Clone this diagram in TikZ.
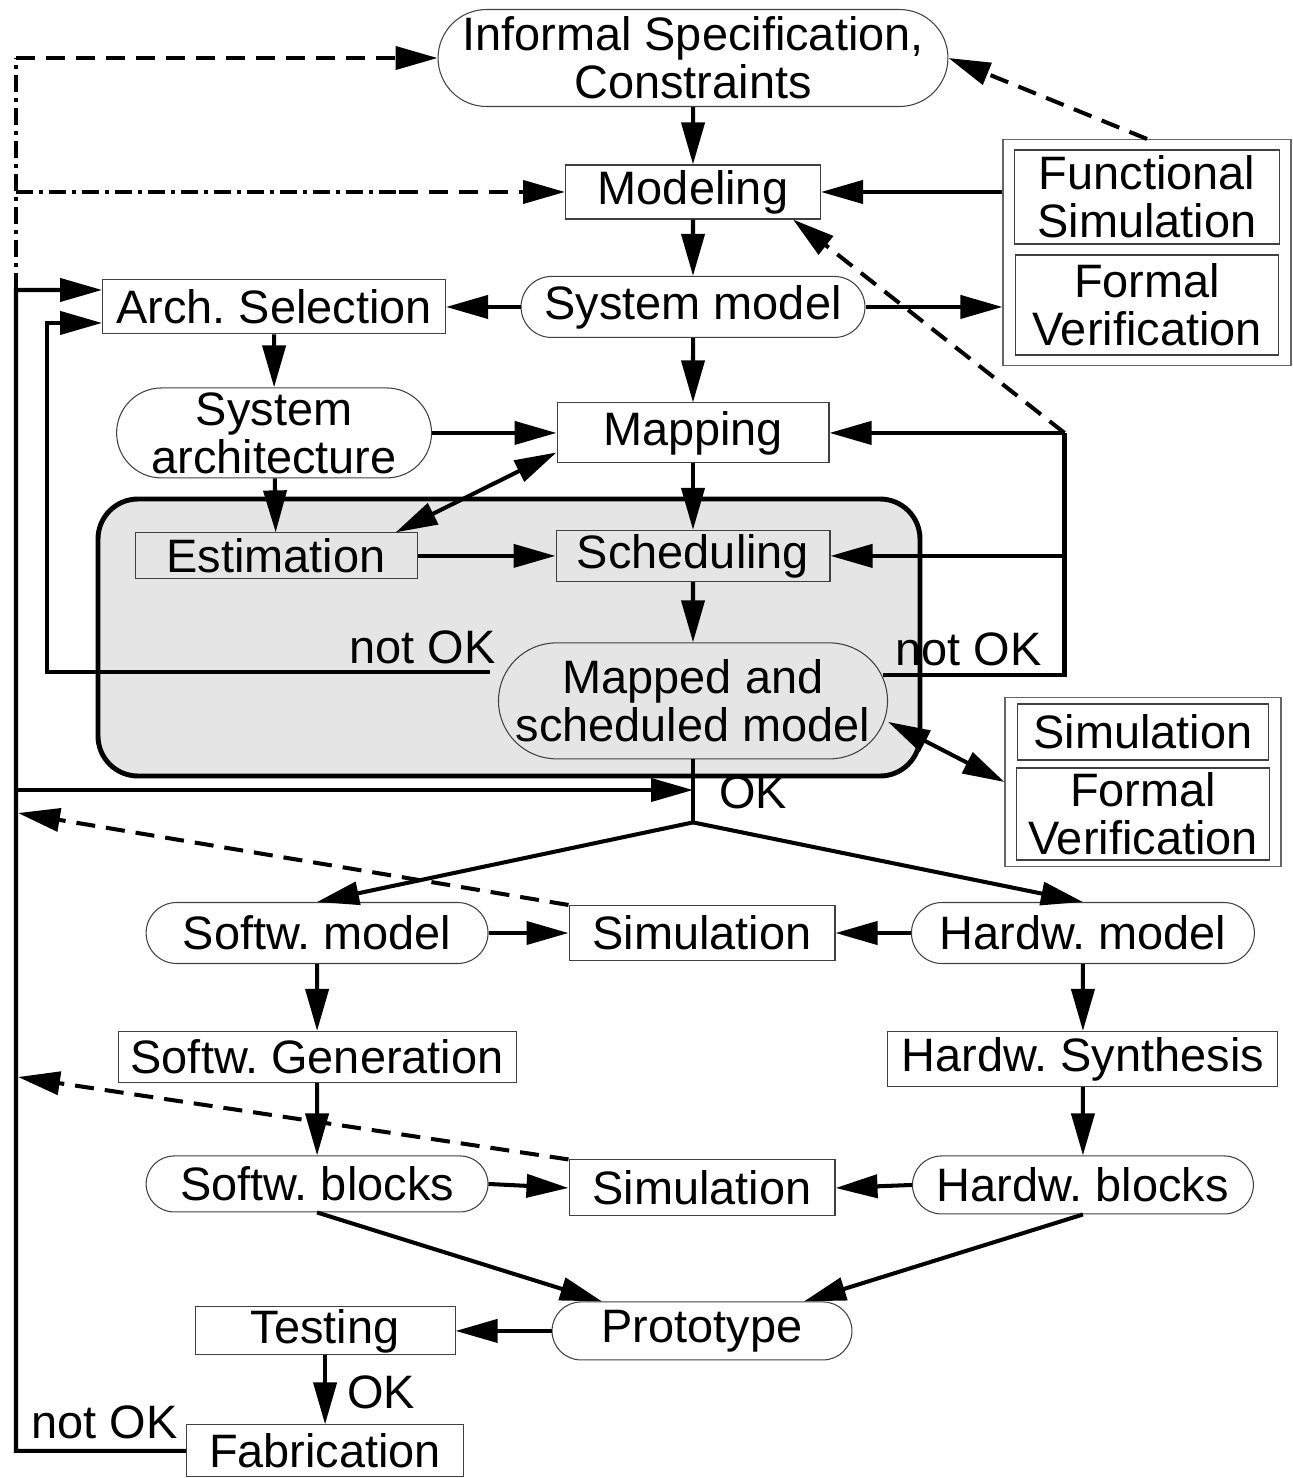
\documentclass[tikz,border=0pt]{standalone}
\usepackage{fontspec}
\setmainfont{Liberation Sans}
\usetikzlibrary{arrows.meta,shapes.misc,fit,calc,backgrounds}
\newcommand{\bigtxt}{\fontsize{26.7pt}{27.3pt}\selectfont\frenchspacing}
\tikzset{
    block/.style = {draw=black!75, line width=0.6pt, rectangle, inner sep=0pt, align=center},
    pill/.style = {draw=black!75, line width=0.6pt, rounded rectangle, inner sep=0pt, align=center},
    group/.style = {draw=black!60, line width=0.6pt, rectangle, inner xsep=0.22cm, inner ysep=0.2cm},
    grayfill/.style = {fill=black!10},
    wire/.style = {draw, line width=2.3pt},
    arrow/.style = {wire, -{Triangle[length=0.84cm,width=0.46cm]}},
    dblarrow/.style = {wire, {Triangle[length=0.84cm,width=0.46cm]}-{Triangle[length=0.84cm,width=0.46cm]}},
    fback/.style = {arrow, dash pattern=on 0.38cm off 0.22cm},
    fbline/.style = {wire, dash pattern=on 0.34cm off 0.12cm on 0.08cm off 0.12cm},
    lbl/.style = {inner sep=0pt}
}

\begin{document}
\begin{tikzpicture}[x=0.02cm, y=-0.02cm, font=\bigtxt]
    \useasboundingbox (0,0) rectangle (1292,1478);
    \node [pill, minimum width=10.2cm, minimum height=1.94cm] (spec) at (693,58) {Informal Specification,\\Constraints};
    \node [block, below of=spec, node distance=2.68cm, minimum width=5.1cm, minimum height=1.08cm] (model) {Modeling};
    \node [pill, below of=model, node distance=2.3cm, minimum width=6.88cm, minimum height=1.22cm] (sysmod) {System model};
    \node [block, left of=sysmod, node distance=8.38cm, minimum width=6.86cm, minimum height=1.08cm] (arch) {Arch. Selection};
    \node [pill, below of=arch, node distance=2.52cm, minimum width=6.3cm, minimum height=1.8cm] (sysarch) {System\\architecture};
    \node [block, below of=sysmod, node distance=2.52cm, minimum width=5.44cm, minimum height=1.2cm] (mapping) {Mapping};
    \node [block, grayfill, below of=mapping, node distance=2.46cm, minimum width=5.48cm, minimum height=1.02cm] (sched) {Scheduling};
    \node [block, grayfill, left of=sched, node distance=8.34cm, minimum width=5.64cm, minimum height=0.92cm] (estim) {Estimation};
    \node [pill, grayfill, below of=sched, node distance=2.9cm, minimum width=7.7cm, minimum height=2.32cm] (mapped) {Mapped and\\scheduled model};

    \node [block, minimum width=5.3cm, minimum height=1.88cm] (fsim) at (1147,197) {Functional\\Simulation};
    \node [block, below of=fsim, node distance=2.16cm, minimum width=5.26cm, minimum height=2cm] (fver) {Formal\\Verification};
    \node [group, fit=(fsim)(fver)] (fsgrp) {};
    \node [block, minimum width=5.02cm, minimum height=1.12cm] (mapsim) at (1143,732) {Simulation};
    \node [block, below of=mapsim, node distance=1.64cm, minimum width=5.06cm, minimum height=1.84cm] (mapver) {Formal\\Verification};
    \node [group, inner ysep=0.12cm, fit=(mapsim)(mapver)] (mapgrp) {};

    \node [block, minimum width=5.32cm, minimum height=1.1cm] (modsim) at (702,933) {Simulation};
    \node [pill, left of=modsim, node distance=7.7cm, minimum width=6.84cm, minimum height=1.22cm] (swmod) {Softw. model};
    \node [pill, right of=modsim, node distance=7.62cm, minimum width=6.86cm, minimum height=1.22cm] (hwmod) {Hardw. model};
    \node [block, below of=swmod, node distance=2.48cm, minimum width=7.96cm, minimum height=1.02cm] (swgen) {Softw. Generation};
    \node [pill, below of=swgen, node distance=2.54cm, minimum width=6.84cm, minimum height=1.12cm] (swblk) {Softw. blocks};
    \node [block, below of=hwmod, node distance=2.52cm, minimum width=7.8cm, minimum height=1.1cm] (hwsyn) {Hardw. Synthesis};
    \node [pill, below of=hwsyn, node distance=2.52cm, minimum width=6.82cm, minimum height=1.16cm] (hwblk) {Hardw. blocks};
    \node [block, below of=modsim, node distance=5.1cm, minimum width=5.32cm, minimum height=1.12cm] (blksim) {Simulation};
    \node [pill, below of=blksim, node distance=2.86cm, minimum width=6cm, minimum height=1.16cm] (proto) {Prototype};
    \node [block, left of=proto, node distance=7.54cm, minimum width=5.2cm, minimum height=0.96cm] (test) {Testing};
    \node [block, below of=test, node distance=2.4cm, minimum width=5.54cm, minimum height=1.04cm] (fab) {Fabrication};

    \coordinate (busarch) at (16,290);
    \coordinate (busok) at (16,790);
    \coordinate (fbup) at (18,813);
    \coordinate (fblow) at (18,1077);
    \coordinate (rtop) at ($(mapping.east)+(235,0)$);
    \coordinate (nokl) at ($(mapped.west)+(-8,-29)$);
    \coordinate (nokr) at ($(mapped.east)+(-5,-26)$);
    \coordinate (archin) at ($(arch.west)+(0,16)$);
    \coordinate (okj) at ($(mapped.south)+(0,63)$);

    \draw [arrow] (spec) -- (model);
    \draw [arrow] (model) -- (sysmod);
    \draw [arrow] (sysmod) -- (mapping);
    \draw [arrow] (mapping) -- (sched);
    \draw [arrow] (sched) -- (mapped);
    \draw [arrow] (sysmod) -- (arch);
    \draw [arrow] (arch) -- (sysarch);
    \draw [arrow] (sysarch) -- (estim);
    \draw [arrow] (sysarch.east) -- (mapping.west);
    \draw [arrow] (estim.east) -- (sched.west);
    \draw [dblarrow] ($(estim.north east)+(-22,0)$) -- ($(mapping.south west)+(0,-11)$);
    \draw [arrow] (fsgrp.west |- model.east) -- (model.east);
    \draw [arrow] (sysmod.east) -- (sysmod.east -| fsgrp.west);
    \draw [fback] (fsgrp.north) -- (spec.east);

    \draw [wire] (nokr) -| (rtop);
    \draw [arrow] (rtop) -- (mapping.east);
    \draw [arrow] (rtop |- sched.east) -- (sched.east);
    \draw [fback] (rtop) -- ($(model.south east)+(-28,0)$);
    \node [lbl, anchor=base west] (nokrtxt) at (895,665) {not OK};
    \draw [arrow] (nokl) -| ($(archin)+(-55,0)$) -- (archin);
    \node [lbl, anchor=base east] (nokltxt) at (496,663) {not OK};
    \draw [dblarrow] ($(mapped.east)+(0,21)$) -- (mapgrp.west);

    \draw [arrow] (fab.west) -| (busarch) -- ($(arch.west)+(0,-17)$);
    \node [lbl, anchor=base east] (nokfab) at (178,1438) {not OK};
    \draw [fbline] (busarch) -- (spec.west -| busarch);
    \draw [fback] (spec.west -| busarch) -- (spec.west);
    \draw [fbline] (model.west -| busarch) -- ($(model.west)+(-166,0)$);
    \draw [fback] ($(model.west)+(-166,0)$) -- (model.west);

    \draw [wire] (mapped.south) -- (okj);
    \draw [arrow] (busok) -- (busok -| okj);
    \node [lbl, anchor=base west] (okmap) at (719,808) {OK};
    \draw [arrow] (okj) -- (swmod.north);
    \draw [arrow] (okj) -- (hwmod.north);

    \draw [arrow] (swmod.east) -- (modsim.west);
    \draw [arrow] (hwmod.west) -- (modsim.east);
    \draw [fback] (modsim.north west) -- (fbup);
    \draw [arrow] (swmod) -- (swgen);
    \draw [arrow] (swgen) -- (swblk);
    \draw [arrow] (hwmod) -- (hwsyn);
    \draw [arrow] (hwsyn) -- (hwblk);
    \draw [arrow] (swblk.east) -- (blksim.west);
    \draw [arrow] (hwblk.west) -- (blksim.east);
    \draw [fback] (blksim.north west) -- (fblow);
    \draw [arrow] (swblk.south) -- ($(proto.north)+(-100,0)$);
    \draw [arrow] (hwblk.south) -- ($(proto.north)+(102,0)$);
    \draw [arrow] (proto.west) -- (test.east);
    \draw [arrow] (test.south) -- (fab.north);
    \node [lbl, anchor=base west] (oktest) at (347,1408) {OK};

    \begin{scope}[on background layer]
        \draw [line width=2.8pt, fill=black!10, rounded corners=0.8cm] (98,499) rectangle (920,776);
    \end{scope}
\end{tikzpicture}
\end{document}
